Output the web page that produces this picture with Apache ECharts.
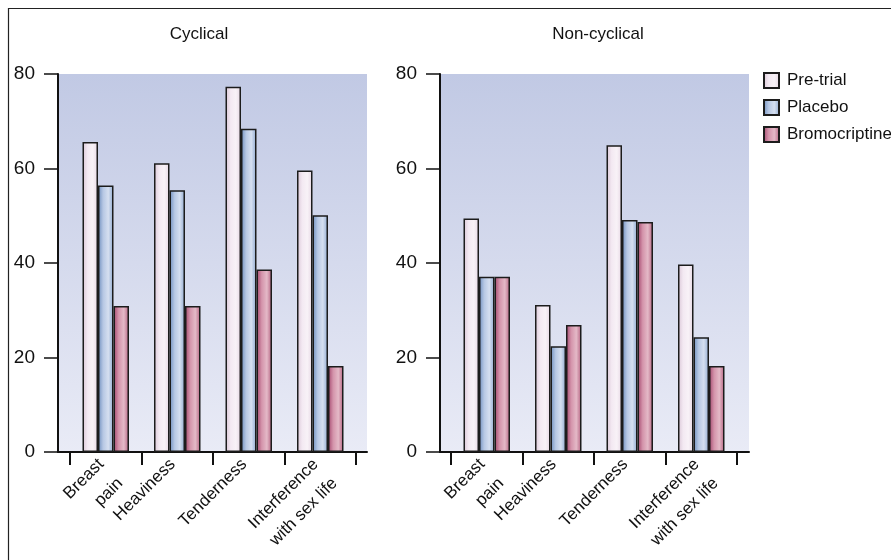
<!DOCTYPE html>
<html>
<head>
<meta charset="utf-8">
<title>Breast symptom scores</title>
<script src="https://cdn.jsdelivr.net/npm/echarts@6/dist/echarts.min.js"></script>
<style>
  html, body { margin: 0; padding: 0; background: #ffffff; }
  #chart { width: 891px; height: 560px; }
</style>
</head>
<body>
<div id="chart"></div>
<script>
// Symptom categories (shared by both panels)
const categories = ['Breast\npain', 'Heaviness', 'Tenderness', 'Interference\nwith sex life'];
const seriesNames = ['Pre-trial', 'Placebo', 'Bromocriptine'];
const panelTitles = ['Cyclical', 'Non-cyclical'];
const yTicks = [0, 20, 40, 60, 80];

// Cyclical mastalgia scores
const cyclicalPreTrial = [65.6, 61.1, 77.3, 59.6];
const cyclicalPlacebo = [56.4, 55.4, 68.4, 50.1];
const cyclicalBromocriptine = [30.9, 30.9, 38.6, 18.2];

// Non-cyclical mastalgia scores
const nonCyclicalPreTrial = [49.4, 31.1, 64.9, 39.7];
const nonCyclicalPlacebo = [37.1, 22.4, 49.1, 24.3];
const nonCyclicalBromocriptine = [37.1, 26.9, 48.7, 18.2];

const FONT = "'Liberation Sans', Arial, sans-serif";
const INK = '#111111';

function hGrad(stops) {
  return new echarts.graphic.LinearGradient(0, 0, 1, 0,
    stops.map((c, i) => ({ offset: i / (stops.length - 1), color: c })));
}
const fills = [
  hGrad(['#d9c6d6', '#f3e9f2', '#f8f2f7', '#e6d7e4']),
  hGrad(['#6d8dbd', '#b7c8e4', '#d5dff0', '#8ea8cf']),
  hGrad(['#a2456c', '#d494ab', '#e4b9c7', '#b3607f'])
];

const plotBg = new echarts.graphic.LinearGradient(0, 0, 0, 1, [
  { offset: 0, color: '#c1c9e4' },
  { offset: 1, color: '#e9ebf6' }
]);

// Panel geometry: frame (axis box) and inner band holding the categories
const panels = [
  { frameLeft: 58, barLeft: 70, barWidth: 286, titleX: 199 },
  { frameLeft: 440, barLeft: 451, barWidth: 286, titleX: 598 }
];
const TOP = 74, HEIGHT = 378, FRAME_W = 309;

const grid = [], xAxis = [], yAxis = [], title = [];
panels.forEach((p, k) => {
  // frame grid: background, y axis and baseline
  grid.push({ left: p.frameLeft, top: TOP, width: FRAME_W, height: HEIGHT,
    show: true, backgroundColor: plotBg, borderWidth: 0 });
  xAxis.push({ gridIndex: 2 * k, type: 'value', min: 0, max: 1,
    axisLine: { show: true, lineStyle: { color: INK, width: 2 } },
    axisTick: { show: false }, axisLabel: { show: false }, splitLine: { show: false } });
  yAxis.push({ gridIndex: 2 * k, type: 'value', min: yTicks[0], max: yTicks[yTicks.length - 1], interval: 20,
    axisLine: { show: true, lineStyle: { color: INK, width: 2 } },
    axisTick: { show: true, length: 14, lineStyle: { color: INK, width: 1.5 } },
    axisLabel: { fontFamily: FONT, fontSize: 19, color: INK, margin: 23 },
    splitLine: { show: false } });
  // category grid: bars and category ticks
  grid.push({ left: p.barLeft, top: TOP, width: p.barWidth, height: HEIGHT });
  xAxis.push({ gridIndex: 2 * k + 1, type: 'category', data: categories,
    axisLine: { show: false },
    axisTick: { show: true, length: 13, lineStyle: { color: INK, width: 2 } },
    axisLabel: { rotate: 45, interval: 0, fontFamily: FONT, fontSize: 17, color: INK,
      margin: -14, lineHeight: 27, verticalAlign: 'top', padding: [0, 20, 0, 0] } });
  yAxis.push({ gridIndex: 2 * k + 1, type: 'value', min: 0, max: 80, show: false,
    splitLine: { show: false } });
  title.push({ text: panelTitles[k], left: p.titleX, top: 26, padding: 0, textAlign: 'center',
    textStyle: { fontFamily: FONT, fontSize: 17, fontWeight: 'normal', color: INK } });
});

const panelData = [
  [cyclicalPreTrial, cyclicalPlacebo, cyclicalBromocriptine],
  [nonCyclicalPreTrial, nonCyclicalPlacebo, nonCyclicalBromocriptine]
];
const series = [];
panelData.forEach((sets, k) => {
  sets.forEach((vals, i) => {
    series.push({
      type: 'bar', name: seriesNames[i],
      xAxisIndex: 2 * k + 1, yAxisIndex: 2 * k + 1,
      data: vals, barWidth: 15.5, barGap: '0%',
      itemStyle: { color: fills[i], borderColor: '#1c1c1c', borderWidth: 1.5 },
      emphasis: { disabled: true }
    });
  });
});

const chart = echarts.init(document.getElementById('chart'), null, { renderer: 'canvas' });
chart.setOption({
  animation: false,
  backgroundColor: '#ffffff',
  title,
  legend: {
    data: seriesNames, orient: 'vertical', left: 763, top: 72, padding: 0,
    icon: 'rect', itemWidth: 15, itemHeight: 15, itemGap: 10,
    textStyle: { fontFamily: FONT, fontSize: 17, color: INK, padding: [0, 0, 0, 3] }
  },
  graphic: [{
    type: 'rect', silent: true, z: -1,
    shape: { x: 8.5, y: 8.5, width: 900, height: 600 },
    style: { fill: 'none', stroke: '#222222', lineWidth: 1.2 }
  }],
  grid, xAxis, yAxis, series
});
</script>
</body>
</html>
